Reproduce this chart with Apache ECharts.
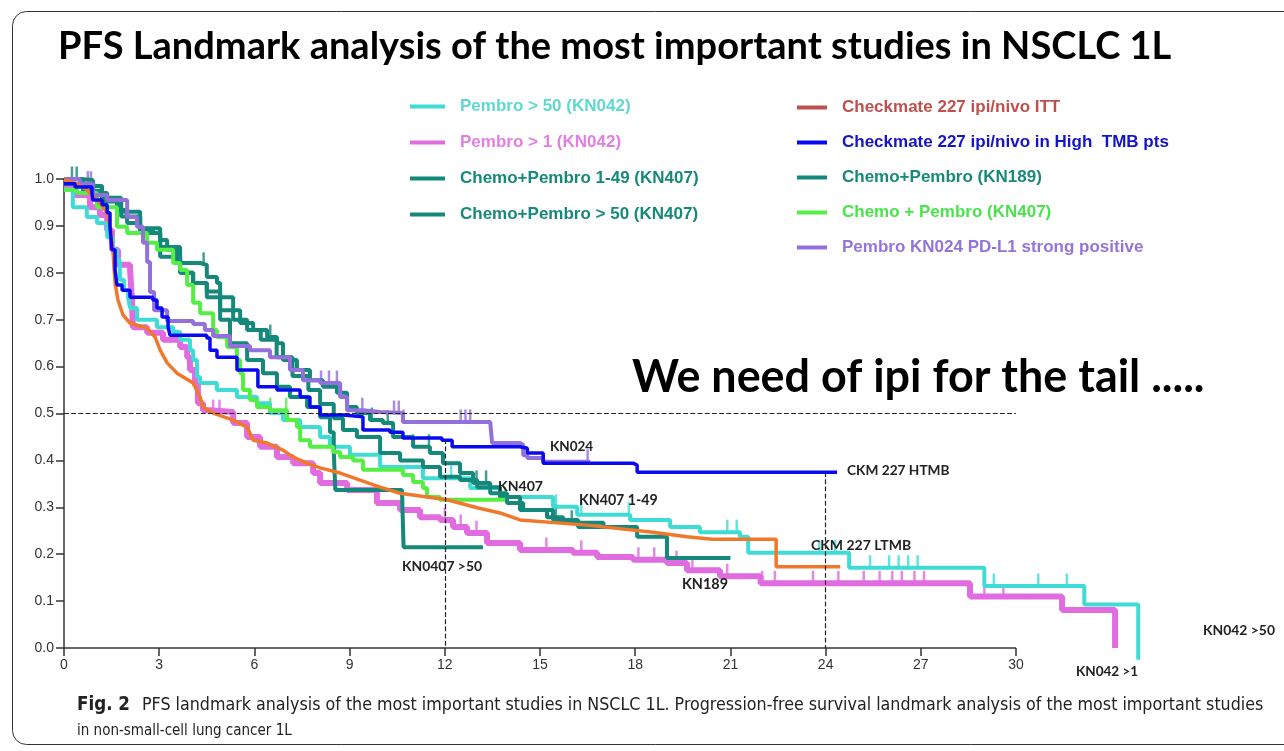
<!DOCTYPE html>
<html>
<head>
<meta charset="utf-8">
<script src="https://cdn.jsdelivr.net/npm/echarts@6/dist/echarts.min.js"></script>
<style>
html, body { margin: 0; padding: 0; background: #fff; }
#chart { width: 1284px; height: 751px; }
</style>
</head>
<body>
<div id="chart"></div>
<script>
// PFS curves: months (T) and survival probability (S)
var cyanT = [0, 0.28, 0.72, 1.04, 1.36, 1.54, 1.67, 1.76, 1.89, 2.02, 2.08, 2.3, 2.93, 3.44, 3.66, 3.97, 4.07, 4.19, 4.29, 4.82, 5.45, 6.08, 6.49, 6.9, 7.44, 8.07, 8.38, 9.01, 9.96, 11.31, 12.8, 13.74, 15.41, 16.17, 17.84, 19.1, 20.04, 21.3, 21.56, 24.74, 29.0, 32.15, 33.85];
var cyanS = [0.977, 0.94, 0.919, 0.906, 0.876, 0.849, 0.827, 0.785, 0.763, 0.748, 0.725, 0.70, 0.684, 0.674, 0.657, 0.635, 0.614, 0.578, 0.565, 0.55, 0.535, 0.522, 0.501, 0.486, 0.471, 0.45, 0.429, 0.412, 0.386, 0.362, 0.341, 0.322, 0.301, 0.284, 0.273, 0.258, 0.247, 0.237, 0.203, 0.171, 0.132, 0.093, -0.025];

var magentaT = [0, 0.35, 0.82, 1.13, 1.36, 1.51, 1.7, 2.08, 2.14, 2.17, 2.62, 3.12, 3.66, 3.88, 3.97, 4.13, 4.22, 4.38, 4.6, 5.33, 5.77, 6.18, 6.71, 7.22, 7.85, 8.07, 8.92, 9.86, 10.59, 11.22, 11.85, 12.26, 12.7, 13.33, 14.37, 16.04, 16.8, 17.93, 19.0, 19.63, 20.67, 21.95, 28.55, 31.45, 33.12];
var magentaS = [0.98, 0.966, 0.94, 0.923, 0.891, 0.849, 0.817, 0.81, 0.742, 0.684, 0.672, 0.657, 0.642, 0.62, 0.593, 0.561, 0.522, 0.507, 0.503, 0.48, 0.45, 0.429, 0.407, 0.394, 0.373, 0.352, 0.337, 0.309, 0.294, 0.279, 0.273, 0.258, 0.245, 0.224, 0.209, 0.203, 0.194, 0.188, 0.181, 0.166, 0.153, 0.138, 0.11, 0.081, 0];

var kn407lowT = [0, 0.5, 0.91, 1.36, 1.67, 1.99, 2.4, 2.8, 3.03, 3.25, 3.56, 4.29, 4.5, 4.82, 4.92, 5.33, 5.55, 5.96, 6.4, 6.71, 6.9, 7.34, 7.75, 8.16, 8.6, 8.92, 9.23, 9.64, 10.05, 10.37, 11.0, 11.53, 11.94, 12.48, 12.89, 13.43, 13.96, 14.47, 15.22, 15.73, 17.0];
var kn407lowS = [1.0, 0.998, 0.97, 0.955, 0.934, 0.906, 0.891, 0.885, 0.87, 0.849, 0.821, 0.817, 0.791, 0.778, 0.748, 0.72, 0.693, 0.678, 0.663, 0.65, 0.614, 0.593, 0.571, 0.557, 0.544, 0.514, 0.501, 0.486, 0.48, 0.45, 0.429, 0.416, 0.394, 0.373, 0.352, 0.33, 0.309, 0.294, 0.279, 0.267, 0.262];

var kn407highT = [0, 0.6, 1.2, 1.8, 2.4, 3.03, 3.66, 4.07, 4.5, 4.92, 5.23, 5.77, 6.27, 6.71, 7.12, 7.66, 8.07, 8.38, 8.5, 8.55, 10.65, 10.7, 13.2];
var kn407highS = [1.0, 0.985, 0.96, 0.93, 0.895, 0.855, 0.80, 0.778, 0.748, 0.70, 0.65, 0.614, 0.586, 0.557, 0.535, 0.514, 0.492, 0.46, 0.42, 0.337, 0.337, 0.215, 0.215];

var kn189T = [0, 0.6, 1.2, 1.8, 2.4, 3.03, 3.66, 4.07, 4.5, 4.92, 5.33, 5.77, 6.2, 6.7, 7.2, 7.7, 8.07, 8.5, 8.79, 9.23, 9.96, 10.59, 11.31, 11.85, 12.48, 13.02, 13.74, 14.37, 15.41, 16.2, 18.06, 19.0, 21.0];
var kn189S = [0.99, 0.975, 0.952, 0.92, 0.885, 0.834, 0.80, 0.778, 0.76, 0.72, 0.70, 0.678, 0.657, 0.62, 0.58, 0.55, 0.52, 0.49, 0.465, 0.45, 0.416, 0.40, 0.386, 0.365, 0.358, 0.343, 0.322, 0.294, 0.273, 0.258, 0.237, 0.192, 0.192];

var greenT = [0, 0.41, 1.04, 1.67, 1.99, 2.62, 2.93, 3.44, 3.66, 3.88, 4.07, 4.29, 4.7, 4.82, 5.14, 5.45, 5.55, 5.64, 5.86, 6.08, 6.49, 7.03, 7.34, 7.44, 7.75, 8.48, 8.7, 9.11, 9.42, 10.68, 11.0, 11.31, 11.44, 11.85, 13.9];
var greenS = [0.977, 0.97, 0.94, 0.898, 0.885, 0.864, 0.849, 0.821, 0.806, 0.774, 0.736, 0.714, 0.678, 0.663, 0.642, 0.614, 0.586, 0.55, 0.529, 0.514, 0.507, 0.486, 0.471, 0.443, 0.429, 0.418, 0.407, 0.40, 0.38, 0.369, 0.354, 0.341, 0.322, 0.316, 0.316];

var kn024T = [0, 0.5, 0.91, 1.36, 1.99, 2.3, 2.49, 2.62, 2.71, 2.84, 3.25, 4.07, 4.44, 4.7, 5.23, 5.86, 6.49, 7.12, 7.53, 8.07, 8.7, 8.92, 9.42, 9.96, 10.68, 13.43, 13.49, 14.37, 14.47, 14.6, 15.1, 16.58];
var kn024S = [1.0, 0.99, 0.966, 0.955, 0.919, 0.898, 0.864, 0.823, 0.759, 0.72, 0.697, 0.691, 0.678, 0.665, 0.644, 0.635, 0.62, 0.593, 0.571, 0.565, 0.535, 0.507, 0.503, 0.501, 0.482, 0.48, 0.437, 0.433, 0.411, 0.405, 0.397, 0.397];

var ittT = [0, 0.41, 0.72, 1.13, 1.36, 1.45, 1.54, 1.61, 1.7, 1.86, 2.08, 2.62, 2.87, 3.03, 3.25, 3.56, 4.07, 4.29, 4.38, 4.7, 5.33, 5.77, 5.96, 6.4, 6.9, 7.22, 7.66, 8.07, 8.7, 9.33, 9.96, 10.59, 12.07, 13.02, 13.74, 14.37, 16.48, 18.56, 19.63, 20.42, 22.44, 22.44, 24.46];
var ittS = [0.998, 0.99, 0.977, 0.949, 0.928, 0.898, 0.849, 0.778, 0.742, 0.71, 0.693, 0.682, 0.663, 0.635, 0.608, 0.586, 0.565, 0.535, 0.514, 0.501, 0.486, 0.471, 0.443, 0.437, 0.422, 0.407, 0.394, 0.384, 0.373, 0.358, 0.343, 0.33, 0.316, 0.299, 0.288, 0.273, 0.262, 0.247, 0.237, 0.232, 0.232, 0.173, 0.173];

var htmbT = [0, 0.35, 0.88, 0.91, 1.2, 1.36, 1.45, 1.51, 1.61, 1.67, 1.83, 2.08, 2.8, 2.93, 3.09, 3.28, 3.34, 4.5, 4.6, 4.82, 5.45, 6.11, 6.71, 7.44, 7.75, 8.07, 8.79, 9.42, 10.27, 10.68, 11.91, 12.23, 14.37, 14.6, 15.1, 17.93, 18.06, 24.36];
var htmbS = [0.99, 0.983, 0.97, 0.955, 0.945, 0.928, 0.898, 0.849, 0.806, 0.774, 0.763, 0.748, 0.742, 0.725, 0.706, 0.684, 0.667, 0.661, 0.635, 0.62, 0.593, 0.557, 0.55, 0.535, 0.514, 0.497, 0.493, 0.465, 0.46, 0.448, 0.443, 0.429, 0.426, 0.416, 0.394, 0.39, 0.375, 0.375];

// censoring ticks (months)
var cyanCens = [12.2, 12.5, 15.5, 16.3, 17.8, 20.9, 21.2, 23.8, 24.3, 25.4, 26.0, 26.3, 26.6, 26.9, 29.3, 30.7, 31.6];
var magentaCens = [4.7, 4.9, 12.0, 12.5, 13.0, 15.2, 16.3, 18.1, 18.6, 19.3, 19.8, 20.9, 22.0, 22.4, 23.6, 24.4, 25.2, 25.7, 26.1, 26.4, 26.8, 27.1, 29.0, 29.6, 31.5];
var kn407lowCens = [0.25, 0.4, 4.4, 6.5, 8.6, 9.7, 10.2, 11.0, 11.5, 13.0, 13.3, 15.5, 16.0];
var greenCens = [3.5, 6.5, 7.0, 13.9];
var kn024Cens = [0.75, 0.85, 0.95, 8.1, 8.35, 8.6, 9.4, 10.4, 10.55, 10.7, 12.5, 12.65, 12.8, 16.5];

// axis and reference lines
var monthTicks = [0, 3, 6, 9, 12, 15, 18, 21, 24, 27, 30];
var medianLine = 0.5;
var landmarkMonths = [12, 24];
var landmarkTops = [0.445, 0.375];

var legendLeft = ['Pembro > 50 (KN042)', 'Pembro > 1 (KN042)', 'Chemo+Pembro 1-49 (KN407)', 'Chemo+Pembro > 50 (KN407)'];
var legendRight = ['Checkmate 227 ipi/nivo ITT', 'Checkmate 227 ipi/nivo in High  TMB pts', 'Chemo+Pembro (KN189)', 'Chemo + Pembro (KN407)', 'Pembro KN024 PD-L1 strong positive'];
var legendLeftColors = ['#5fd8d2', '#e37ee3', '#17897a', '#17897a'];
var legendRightColors = ['#c0504d', '#1414c8', '#17897a', '#4be34b', '#9474d8'];

var curveLabels = ['KN024', 'CKM 227 HTMB', 'KN407', 'KN407 1-49', 'CKM 227 LTMB', 'KN0407 >50', 'KN189', 'KN042 >50', 'KN042 >1'];
var curveLabelPos = [[550, 447, 43], [847, 471, 103], [498, 486, 45], [579, 500, 79], [811, 545, 100], [402, 567, 80], [682, 584, 46], [1203, 631, 72], [1076, 672, 62]];

var C_CYAN = '#3fdcd6', C_MAG = '#e06ce0', C_TEAL = '#14887a', C_GREEN = '#55ee44',
    C_PURPLE = '#9470dc', C_ORANGE = '#f0782a', C_BLUE = '#0a0af0';

var measure = document.createElement('canvas').getContext('2d');
function fitSize(text, font, width) {
    measure.font = font.replace('{s}', '100px');
    return 100 * width / measure.measureText(text).width;
}

function pairs(T, S) {
    return T.map(function (t, i) { return [t, S[i]]; });
}
function valueAt(T, S, t) {
    var v = S[0];
    for (var i = 0; i < T.length; i++) {
        if (T[i] <= t) v = S[i];
    }
    return v;
}
function curve(name, T, S, color, width, step) {
    return {
        type: 'line', name: name, data: pairs(T, S),
        step: step ? 'end' : false, symbol: 'none', clip: false,
        lineStyle: { color: color, width: width }, itemStyle: { color: color },
        emphasis: { disabled: true }
    };
}
function censors(T, S, times, color) {
    return {
        type: 'scatter', silent: true, clip: false,
        data: times.map(function (t) { return [t, valueAt(T, S, t)]; }),
        symbol: 'rect', symbolSize: [2.5, 13], symbolOffset: [0, -6],
        itemStyle: { color: color }
    };
}

var labelFont = 'bold {s} Lato';
var graphics = [
    { type: 'rect', z: -10, shape: { x: 12.5, y: 11.5, width: 1300, height: 733, r: 14 },
      style: { fill: 'none', stroke: '#333', lineWidth: 1 } }
];
function addText(text, x, y, font, width, color) {
    var size = fitSize(text, font, width);
    graphics.push({ type: 'text', x: x, y: y, z: 10,
        style: { text: text, font: font.replace('{s}', size.toFixed(1) + 'px'), fill: color, verticalAlign: 'middle' } });
}
addText('PFS Landmark analysis of the most important studies in NSCLC 1L', 58, 47, 'bold {s} Lato', 1112, '#000');
addText('We need of ipi for the tail .....', 632, 378, 'bold {s} Lato', 573, '#000');
curveLabels.forEach(function (t, i) {
    addText(t, curveLabelPos[i][0], curveLabelPos[i][1], labelFont, curveLabelPos[i][2], '#222');
});
var capFont = '{s} "Liberation Sans Narrow", "DejaVu Sans Condensed", sans-serif';
addText('Fig. 2', 77, 705, 'bold ' + capFont, 53, '#222');
addText('PFS landmark analysis of the most important studies in NSCLC 1L. Progression-free survival landmark analysis of the most important studies', 142, 705, capFont, 1123, '#222');
addText('in non-small-cell lung cancer 1L', 77, 731, capFont, 215, '#222');

function legendData(names, colors) {
    return names.map(function (n, i) {
        var d = { name: n, textStyle: { color: colors[i] } };
        if (n === 'Checkmate 227 ipi/nivo ITT') {
            d.itemStyle = { color: colors[i] };
        }
        return d;
    });
}
var legendText = { fontFamily: 'Liberation Sans, Arial, sans-serif', fontWeight: 'bold', fontSize: 17, padding: [0, 0, 0, 10] };

var series = [
    curve('Pembro > 1 (KN042)', magentaT, magentaS, C_MAG, 6, true),
    censors(magentaT, magentaS, magentaCens, C_MAG),
    curve('Pembro > 50 (KN042)', cyanT, cyanS, C_CYAN, 4, true),
    censors(cyanT, cyanS, cyanCens, C_CYAN),
    curve('Chemo+Pembro 1-49 (KN407)', kn407lowT, kn407lowS, C_TEAL, 4, true),
    censors(kn407lowT, kn407lowS, kn407lowCens, C_TEAL),
    curve('Chemo+Pembro > 50 (KN407)', kn407highT, kn407highS, C_TEAL, 4, true),
    curve('Chemo+Pembro (KN189)', kn189T, kn189S, C_TEAL, 4, true),
    curve('Chemo + Pembro (KN407)', greenT, greenS, C_GREEN, 4, true),
    censors(greenT, greenS, greenCens, C_GREEN),
    curve('Pembro KN024 PD-L1 strong positive', kn024T, kn024S, C_PURPLE, 4, true),
    censors(kn024T, kn024S, kn024Cens, C_PURPLE),
    curve('Checkmate 227 ipi/nivo ITT', ittT, ittS, C_ORANGE, 3.5, false),
    curve('Checkmate 227 ipi/nivo in High  TMB pts', htmbT, htmbS, C_BLUE, 3.5, true)
];
// x axis line drawn only up to the last labelled month; dashed median and landmark lines
series.push({
    type: 'line', data: [], silent: true,
    markLine: {
        silent: true, symbol: ['none', 'none'], label: { show: false }, z: 5,
        data: [
            [{ coord: [0, 0], lineStyle: { type: 'solid', color: '#333', width: 1.5 } },
             { coord: [monthTicks[monthTicks.length - 1], 0] }],
            [{ coord: [0, medianLine] }, { coord: [monthTicks[monthTicks.length - 1], medianLine] }]
        ].concat(landmarkMonths.map(function (m, i) {
            return [{ coord: [m, landmarkTops[i]] }, { coord: [m, 0] }];
        })),
        lineStyle: { type: 'dashed', color: '#222', width: 1.2 }
    }
});

var chart = echarts.init(document.getElementById('chart'));
chart.setOption({
    animation: false,
    backgroundColor: '#fff',
    grid: { left: 64, right: 141, top: 179, bottom: 103 },
    legend: [
        { orient: 'vertical', left: 405, top: 93, itemWidth: 35, itemHeight: 4, itemGap: 19, icon: 'rect',
          selectedMode: false, textStyle: legendText, data: legendData(legendLeft, legendLeftColors) },
        { orient: 'vertical', left: 792, top: 94, itemWidth: 30, itemHeight: 4, itemGap: 18, icon: 'rect',
          selectedMode: false, textStyle: legendText, data: legendData(legendRight, legendRightColors) }
    ],
    xAxis: {
        type: 'value', min: 0, max: 34, interval: 3,
        axisLine: { show: false },
        axisTick: { show: true, length: 8, customValues: monthTicks, lineStyle: { color: '#333', width: 1.5 } },
        axisLabel: { color: '#333', fontSize: 14, fontFamily: 'Liberation Sans, Arial', margin: 10, customValues: monthTicks },
        splitLine: { show: false }
    },
    yAxis: {
        type: 'value', min: 0, max: 1, interval: 0.1,
        axisLine: { show: true, lineStyle: { color: '#333', width: 1.5 } },
        axisTick: { show: true, length: 8, lineStyle: { color: '#333', width: 1.5 } },
        axisLabel: { color: '#333', fontSize: 14, fontFamily: 'Liberation Sans, Arial', margin: 10,
                     formatter: function (v) { return v.toFixed(1); } },
        splitLine: { show: false }
    },
    graphic: graphics,
    series: series
});
</script>
</body>
</html>
